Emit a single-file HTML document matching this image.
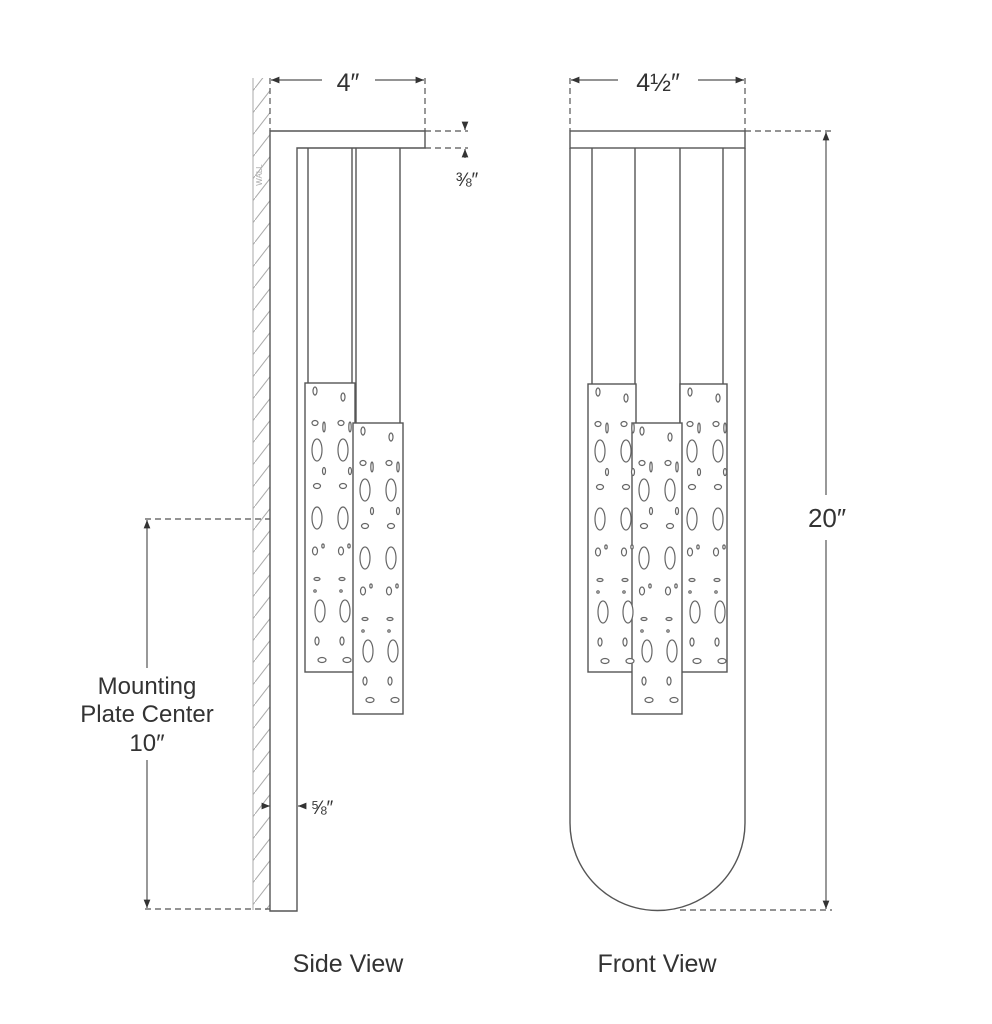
<!DOCTYPE html>
<html><head><meta charset="utf-8"><style>
html,body{margin:0;padding:0;background:#fff;}
svg{display:block;}
text{font-family:"Liberation Sans","DejaVu Sans",sans-serif;fill:#333;}
</style></head><body>
<svg width="992" height="1024" viewBox="0 0 992 1024" xmlns="http://www.w3.org/2000/svg">
<defs>
<pattern id="hatch" width="17" height="22" patternUnits="userSpaceOnUse">
<line x1="0" y1="22" x2="17" y2="0" stroke="#aaa" stroke-width="1"/>
</pattern>
<marker id="ar" viewBox="0 0 10 10" refX="10" refY="5" markerWidth="9" markerHeight="7" orient="auto-start-reverse">
<path d="M0,1 L10,5 L0,9 z" fill="#333"/>
</marker>
<g id="holes" fill="#fff" stroke="#666" stroke-width="1.2">
<ellipse cx="10" cy="8" rx="2" ry="4"/><ellipse cx="38" cy="14" rx="2" ry="4"/>
<ellipse cx="10" cy="40" rx="3" ry="2.5"/><ellipse cx="36" cy="40" rx="3" ry="2.5"/>
<ellipse cx="19" cy="44" rx="1.2" ry="5"/><ellipse cx="45" cy="44" rx="1.2" ry="5"/>
<ellipse cx="12" cy="67" rx="5" ry="11"/><ellipse cx="38" cy="67" rx="5" ry="11"/>
<ellipse cx="19" cy="88" rx="1.5" ry="3.5"/><ellipse cx="45" cy="88" rx="1.5" ry="3.5"/>
<ellipse cx="12" cy="103" rx="3.5" ry="2.5"/><ellipse cx="38" cy="103" rx="3.5" ry="2.5"/>
<ellipse cx="12" cy="135" rx="5" ry="11"/><ellipse cx="38" cy="135" rx="5" ry="11"/>
<ellipse cx="10" cy="168" rx="2.5" ry="4"/><ellipse cx="36" cy="168" rx="2.5" ry="4"/>
<ellipse cx="18" cy="163" rx="1.2" ry="2"/><ellipse cx="44" cy="163" rx="1.2" ry="2"/>
<ellipse cx="12" cy="196" rx="3" ry="1.5"/><ellipse cx="37" cy="196" rx="3" ry="1.5"/>
<circle cx="10" cy="208" r="1.2"/><circle cx="36" cy="208" r="1.2"/>
<ellipse cx="15" cy="228" rx="5" ry="11"/><ellipse cx="40" cy="228" rx="5" ry="11"/>
<ellipse cx="12" cy="258" rx="2" ry="4"/><ellipse cx="37" cy="258" rx="2" ry="4"/>
<ellipse cx="17" cy="277" rx="4" ry="2.5"/><ellipse cx="42" cy="277" rx="4" ry="2.5"/>
</g>
</defs>

<rect x="253" y="78" width="17" height="832" fill="url(#hatch)"/>
<line x1="253" y1="78" x2="253" y2="910" stroke="#aaa" stroke-width="1"/>
<text x="262" y="175" font-size="8" transform="rotate(-90 262 175)" text-anchor="middle" style="fill:#aaa">WALL</text>

<g fill="none" stroke="#555" stroke-width="1.4">
<path d="M270,131 L425,131 L425,148 L297,148 L297,911 L270,911 Z" fill="#fff"/>
<line x1="308" y1="148" x2="308" y2="383"/><line x1="352" y1="148" x2="352" y2="383"/>
<line x1="356" y1="148" x2="356" y2="423"/><line x1="400" y1="148" x2="400" y2="423"/>
<rect x="305" y="383" width="50" height="289" fill="#fff"/>
<rect x="353" y="423" width="50" height="291" fill="#fff"/>

<rect x="570" y="131" width="175" height="17" fill="#fff"/>
<path d="M570,148 L570,823 A87.5,87.5 0 0 0 745,823 L745,148"/>
<line x1="592" y1="148" x2="592" y2="384"/><line x1="635" y1="148" x2="635" y2="423"/>
<line x1="680" y1="148" x2="680" y2="423"/><line x1="723" y1="148" x2="723" y2="384"/>
<rect x="588" y="384" width="48" height="288" fill="#fff"/>
<rect x="680" y="384" width="47" height="288" fill="#fff"/>
<rect x="632" y="423" width="50" height="291" fill="#fff"/>
</g>
<use href="#holes" x="305" y="383"/>
<use href="#holes" x="353" y="423"/>
<use href="#holes" x="588" y="384"/>
<use href="#holes" x="680" y="384"/>
<use href="#holes" x="632" y="423"/>

<g stroke="#555" stroke-width="1.2" fill="none">
<g stroke-dasharray="6,4">
<line x1="425" y1="78" x2="425" y2="131"/>
<line x1="270" y1="78" x2="270" y2="131"/>
<line x1="425" y1="131" x2="468" y2="131"/><line x1="425" y1="148" x2="468" y2="148"/>
<line x1="145" y1="519" x2="270" y2="519"/><line x1="145" y1="909" x2="270" y2="909"/>
<line x1="570" y1="78" x2="570" y2="131"/><line x1="745" y1="78" x2="745" y2="131"/>
<line x1="745" y1="131" x2="832" y2="131"/><line x1="680" y1="910" x2="832" y2="910"/>
</g>
<line x1="322" y1="80" x2="271" y2="80" marker-end="url(#ar)"/>
<line x1="375" y1="80" x2="424" y2="80" marker-end="url(#ar)"/>
<line x1="618" y1="80" x2="571" y2="80" marker-end="url(#ar)"/>
<line x1="698" y1="80" x2="744" y2="80" marker-end="url(#ar)"/>
<line x1="465" y1="122" x2="465" y2="130" marker-end="url(#ar)"/>
<line x1="465" y1="158" x2="465" y2="149" marker-end="url(#ar)"/>
<line x1="147" y1="668" x2="147" y2="520" marker-end="url(#ar)"/>
<line x1="147" y1="760" x2="147" y2="908" marker-end="url(#ar)"/>
<line x1="826" y1="495" x2="826" y2="132" marker-end="url(#ar)"/>
<line x1="826" y1="540" x2="826" y2="909" marker-end="url(#ar)"/>
<line x1="262" y1="806" x2="270" y2="806" marker-end="url(#ar)"/>
<line x1="306" y1="806" x2="298" y2="806" marker-end="url(#ar)"/>
</g>

<text x="348" y="91" font-size="25" text-anchor="middle">4″</text>
<text x="658" y="91" font-size="25" text-anchor="middle">4½″</text>
<text x="467" y="186" font-size="19" text-anchor="middle">⅜″</text>
<text x="322" y="814" font-size="19" text-anchor="middle">⅝″</text>
<text x="147" y="694" font-size="24" text-anchor="middle">Mounting</text>
<text x="147" y="722" font-size="24" text-anchor="middle">Plate Center</text>
<text x="147" y="751" font-size="24" text-anchor="middle">10″</text>
<text x="827" y="527" font-size="26" text-anchor="middle">20″</text>
<text x="348" y="972" font-size="25" text-anchor="middle">Side View</text>
<text x="657" y="972" font-size="25" text-anchor="middle">Front View</text>
</svg>
</body></html>
